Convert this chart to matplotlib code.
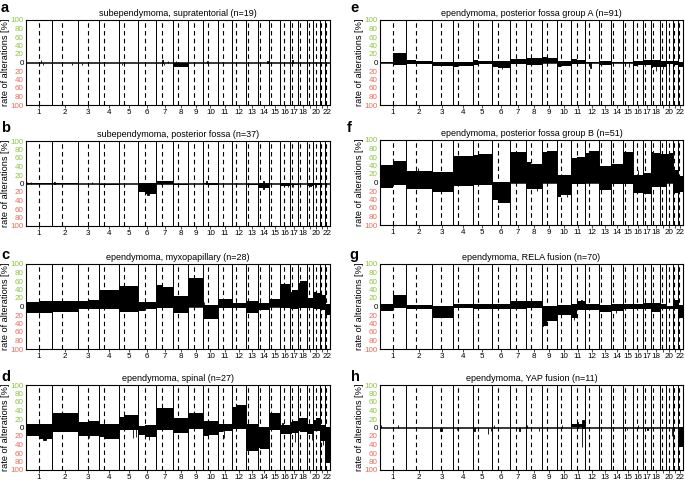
import numpy as np
import matplotlib

matplotlib.use("Agg")
import matplotlib.pyplot as plt

plt.rcParams["font.family"] = ["Liberation Sans", "DejaVu Sans"]

# hg19 autosomes (Mb)
CHROMS = [str(i) for i in range(1, 23)]
CHROM_LEN = [249.3, 243.2, 198.0, 191.2, 180.9, 171.1, 159.1, 146.4, 141.2, 135.5, 135.0,
             133.9, 115.2, 107.3, 102.5, 90.4, 81.2, 78.1, 59.1, 63.0, 48.1, 51.3]
CENTROMERE = [125.0, 93.3, 91.0, 50.4, 48.4, 61.0, 59.9, 45.6, 49.0, 40.2, 53.7,
              35.8, 17.9, 17.6, 19.0, 36.6, 24.0, 17.2, 26.5, 27.5, 13.2, 14.7]
TICK_LABELS = [c if c not in ("19", "21") else "" for c in CHROMS]

# per-arm rates in %, order 1p,1q,2p,2q,...,22p,22q
A_GAIN = [0] * 44
A_LOSS = [0, 0, 0, 0, 0, 0, 0, 0, 0, 0, 0, 0, 0, 0, 10, 10, 0, 0, 0, 0, 0, 0,
          0, 0, 0, 0, 0, 0, 0, 0, 0, 0, 0, 0, 0, 0, 0, 0, 0, 0, 0, 0, 0, 0]
B_GAIN = [1, 1, 1, 1, 0, 0, 0, 0, 0, 0, 1, 1, 5, 5, 0, 0, 0, 0, 1, 1, 0, 0,
          0, 0, 0, 0, 1, 1, 0, 0, 1, 1, 0, 0, 0, 0, 1, 1, 1, 1, 0, 0, 0, 0]
B_LOSS = [0, 0, 0, 0, 0, 0, 3, 3, 0, 0, 20, 24, 2, 2, 3, 3, 0, 0, 1, 3, 0, 0,
          0, 0, 3, 3, 10, 10, 0, 0, 6, 6, 3, 3, 1, 1, 5, 5, 4, 4, 2, 2, 1, 1]
C_GAIN = [10, 12, 12, 12, 14, 15, 40, 40, 48, 49, 10, 10, 50, 47, 25, 25, 67, 67, 3, 3, 18, 18,
          8, 8, 12, 12, 8, 8, 18, 18, 52, 52, 33, 40, 55, 60, 20, 20, 33, 32, 28, 28, 6, 6]
C_LOSS = [15, 15, 12, 12, 6, 6, 5, 5, 12, 12, 10, 6, 3, 3, 16, 16, 2, 2, 30, 30, 3, 3,
          3, 3, 15, 15, 9, 9, 2, 2, 3, 3, 5, 5, 3, 3, 3, 3, 5, 5, 8, 8, 20, 20]
D_GAIN = [8, 8, 33, 34, 12, 15, 8, 8, 25, 30, 3, 5, 45, 45, 22, 22, 33, 33, 15, 15, 8, 8,
          48, 52, 8, 8, 2, 2, 33, 33, 5, 5, 13, 15, 22, 22, 8, 8, 18, 22, 5, 5, 2, 2]
D_LOSS = [20, 27, 10, 10, 20, 20, 22, 28, 5, 5, 18, 22, 5, 5, 13, 13, 3, 3, 20, 17, 10, 8,
          3, 3, 55, 55, 48, 50, 5, 5, 15, 15, 15, 12, 8, 10, 15, 15, 8, 8, 30, 32, 80, 84]
E_GAIN = [2, 22, 5, 4, 2, 2, 2, 2, 5, 4, 3, 3, 8, 8, 10, 10, 12, 10, 3, 3, 8, 7,
          2, 2, 3, 3, 1, 1, 1, 1, 3, 3, 5, 5, 5, 5, 3, 3, 3, 3, 3, 3, 2, 2]
E_LOSS = [2, 5, 3, 3, 8, 8, 10, 9, 5, 4, 10, 12, 3, 3, 5, 5, 2, 2, 10, 8, 3, 3,
          2, 2, 6, 6, 2, 2, 2, 2, 8, 6, 5, 5, 12, 10, 10, 10, 4, 4, 5, 5, 10, 10]
F_GAIN = [42, 50, 27, 27, 25, 25, 62, 63, 65, 66, 2, 2, 72, 71, 48, 44, 72, 75, 18, 18, 57, 60,
          70, 75, 38, 38, 43, 43, 72, 72, 18, 18, 22, 22, 72, 70, 68, 68, 68, 70, 30, 30, 15, 15]
F_LOSS = [12, 5, 15, 15, 22, 22, 8, 8, 5, 5, 40, 48, 2, 2, 15, 15, 2, 2, 35, 30, 3, 3,
          2, 2, 18, 18, 3, 3, 3, 3, 25, 25, 28, 28, 10, 10, 10, 10, 2, 2, 25, 25, 22, 22]
G_GAIN = [5, 28, 3, 3, 2, 2, 5, 5, 5, 5, 5, 5, 12, 14, 12, 12, 2, 2, 3, 3, 5, 12,
          5, 5, 3, 3, 5, 5, 5, 5, 5, 5, 8, 8, 8, 8, 5, 5, 2, 2, 15, 15, 3, 3]
G_LOSS = [10, 3, 5, 5, 28, 26, 3, 3, 5, 5, 5, 5, 5, 5, 3, 3, 45, 35, 20, 20, 28, 8,
          8, 8, 12, 12, 10, 10, 5, 5, 5, 5, 5, 5, 12, 12, 5, 5, 5, 5, 5, 5, 28, 28]
H_GAIN = [0, 0, 0, 0, 0, 0, 0, 0, 0, 0, 0, 0, 0, 0, 0, 0, 0, 0, 0, 0, 9, 9,
          0, 0, 0, 0, 0, 0, 0, 0, 0, 0, 0, 0, 0, 0, 0, 0, 0, 0, 0, 0, 0, 0]
H_LOSS = [0] * 42 + [0, 45]

# focal events: (chrom, position Mb, width Mb, rate %), negative = loss
A_EVENTS = [(1, 139, 3, 5), (1, 158, 2, -5), (2, 184, 2, -5), (3, 1, 1, -25), (3, 35, 2, -5),
            (3, 92, 3, -5), (5, 26, 3, -5), (7, 58, 3, 6), (7, 75, 2, -6), (7, 112, 2, 3),
            (8, 26, 2, 3), (10, 39, 2, 4), (14, 82, 15, 4), (17, 22, 8, 5)]
B_EVENTS = [(1, 10, 2, 3), (1, 45, 2, 3), (1, 120, 2, -3), (2, 20, 2, 3), (3, 130, 2, 3),
            (6, 82, 20, -28), (7, 50, 3, 7), (10, 30, 2, 5), (14, 50, 3, -13), (14, 50, 2, 5),
            (16, 70, 2, -9), (17, 30, 2, -8), (19, 35, 2, -7), (20, 20, 2, -10)]
C_EVENTS = [(1, 125, 2, 15), (1, 125, 2, -20), (10, 2, 2, 10), (16, 36, 2, 0)]
D_EVENTS = [(1, 160, 30, -30), (3, 100, 2, -25), (5, 130, 2, -25), (5, 160, 2, -22),
            (6, 100, 2, -30), (11, 60, 2, -25), (16, 20, 2, 10), (17, 50, 2, -35), (19, 50, 2, -30),
            (21, 30, 2, -40)]
E_EVENTS = [(6, 100, 2, -15), (12, 50, 2, -12), (15, 60, 2, -10), (18, 40, 2, -20),
            (20, 30, 2, -30), (19, 30, 2, -15)]
F_EVENTS = [(2, 110, 2, 33), (8, 100, 2, -20), (10, 100, 2, -35), (16, 40, 2, 30)]
G_EVENTS = [(9, 5, 3, -46), (11, 30, 3, -32), (11, 100, 3, 15), (14, 40, 2, -15)]
H_EVENTS = [(1, 10, 2, 5), (1, 168, 2, 6), (3, 79, 15, -8), (4, 43, 3, -6), (5, 8, 10, -8),
            (5, 143, 2, -15), (5, 172, 3, -8), (6, 22, 2, 5), (7, 89, 10, -8), (8, 3, 2, 5),
            (8, 40, 2, -5), (8, 116, 2, -8), (10, 48, 2, 5), (11, 61, 2, 12), (11, 102, 33, 18),
            (11, 102, 2, -45), (15, 39, 2, -5), (16, 41, 2, 5), (17, 42, 2, -5), (20, 58, 2, -20)]

TITLES = ["subependymoma, supratentorial (n=19)", "subependymoma, posterior fossa (n=37)",
          "ependymoma, myxopapillary (n=28)", "ependymoma, spinal (n=27)",
          "ependymoma, posterior fossa group A (n=91)", "ependymoma, posterior fossa group B (n=51)",
          "ependymoma, RELA fusion (n=70)", "ependymoma, YAP fusion (n=11)"]
LETTERS = list("abcdefgh")
GAINS = [A_GAIN, B_GAIN, C_GAIN, D_GAIN, E_GAIN, F_GAIN, G_GAIN, H_GAIN]
LOSSES = [A_LOSS, B_LOSS, C_LOSS, D_LOSS, E_LOSS, F_LOSS, G_LOSS, H_LOSS]
EVENTS = [A_EVENTS, B_EVENTS, C_EVENTS, D_EVENTS, E_EVENTS, F_EVENTS, G_EVENTS, H_EVENTS]

GREEN = "#8dc63f"
RED = "#f26b5b"

offsets = np.concatenate([[0], np.cumsum(CHROM_LEN)])
total = offsets[-1]
arm_edges = []
for i in range(22):
    arm_edges.append((offsets[i], offsets[i] + CENTROMERE[i]))
    arm_edges.append((offsets[i] + CENTROMERE[i], offsets[i + 1]))


def step_xy(values):
    xs, ys = [], []
    for (a, b), v in zip(arm_edges, values):
        xs += [a, b]
        ys += [v, v]
    return np.array(xs), np.array(ys, dtype=float)


W, H = 685, 482
fig = plt.figure(figsize=(W / 100, H / 100), dpi=100)

lefts = [26, 380]
widths = [304, 303]
tops = [[20, 141, 264, 385], [20, 140, 264, 385]]
letter_pos = [[(1, 12), (1, 132), (1, 259), (1, 381)],
              [(350, 12), (347, 132), (349, 259), (351, 381)]]
height = 85

yticks = [-100, -80, -60, -40, -20, 0, 20, 40, 60, 80, 100]

for k in range(8):
    col, row = divmod(k, 4)
    top = tops[col][row]
    ax = fig.add_axes([lefts[col] / W, 1 - (top + height) / H, widths[col] / W, height / H])

    xs, gy = step_xy(GAINS[k])
    _, ly = step_xy(LOSSES[k])
    ax.fill_between(xs, 0, gy, color="black", lw=0, zorder=3)
    ax.fill_between(xs, 0, -ly, color="black", lw=0, zorder=3)
    for chrom, pos, wid, val in EVENTS[k]:
        ax.bar(offsets[chrom - 1] + pos, val, width=wid, bottom=0, align="edge",
               color="black", edgecolor="black", linewidth=0.6, zorder=3)

    for i in range(22):
        ax.axvline(offsets[i] + CENTROMERE[i], color="black", lw=0.8,
                   linestyle=(0, (4, 3)), zorder=1)
    for b in offsets[1:-1]:
        ax.axvline(b, color="black", lw=0.7, zorder=4)
    ax.axhline(0, color="black", lw=1.1, zorder=5)

    ax.set_xlim(0, total)
    ax.set_ylim(-100, 100)
    ax.set_xticks((offsets[:-1] + offsets[1:]) / 2)
    ax.set_xticklabels(TICK_LABELS, fontsize=5.8)
    ax.tick_params(axis="x", length=2, width=0.5, pad=1)
    ax.set_yticks(yticks)
    ax.set_yticklabels([str(abs(t)) for t in yticks], fontsize=5.8)
    ax.tick_params(axis="y", length=0, pad=1.5)
    for t, lab in zip(yticks, ax.get_yticklabels()):
        lab.set_color(GREEN if t > 0 else (RED if t < 0 else "black"))
    for s in ax.spines.values():
        s.set_linewidth(0.8)
    ax.set_ylabel("rate of alterations [%]", fontsize=6.6)
    ax.yaxis.set_label_coords(-0.052, 0.5)
    ax.set_title(TITLES[k], fontsize=6.5, pad=3)

    lx, ly_ = letter_pos[col][row]
    fig.text(lx / W, 1 - ly_ / H, LETTERS[k], fontsize=10.5, fontweight="bold",
             va="baseline", ha="left")

fig.savefig("out.png", dpi=100)
